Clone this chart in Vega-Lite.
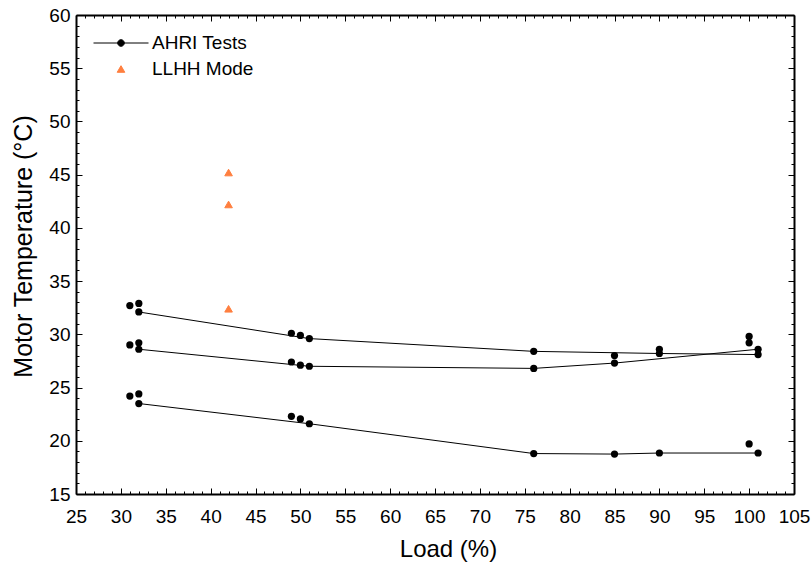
{
  "$schema": "https://vega.github.io/schema/vega-lite/v6.json",
  "width": 718,
  "height": 479,
  "padding": {"left": 76, "top": 15, "right": 18, "bottom": 68},
  "autosize": {"type": "none"},
  "config": {
    "font": "Liberation Sans",
    "view": {"stroke": null},
    "axis": {
      "grid": false,
      "domainColor": "black",
      "domainWidth": 2,
      "tickColor": "black",
      "tickWidth": 1,
      "labelColor": "black",
      "labelFont": "Liberation Sans",
      "labelFontSize": 19,
      "labelOverlap": false,
      "labelFlush": false,
      "titleColor": "black",
      "titleFont": "Liberation Sans",
      "titleFontSize": 24,
      "titleFontWeight": "normal"
    }
  },
  "datasets": {
    "lines": [
      {"load": 32, "temp": 32.1, "curve": "A"},
      {"load": 51, "temp": 29.6, "curve": "A"},
      {"load": 76, "temp": 28.4, "curve": "A"},
      {"load": 90, "temp": 28.2, "curve": "A"},
      {"load": 101, "temp": 28.1, "curve": "A"},
      {"load": 32, "temp": 28.6, "curve": "B"},
      {"load": 51, "temp": 27.0, "curve": "B"},
      {"load": 76, "temp": 26.8, "curve": "B"},
      {"load": 85, "temp": 27.3, "curve": "B"},
      {"load": 101, "temp": 28.6, "curve": "B"},
      {"load": 32, "temp": 23.5, "curve": "C"},
      {"load": 51, "temp": 21.6, "curve": "C"},
      {"load": 76, "temp": 18.8, "curve": "C"},
      {"load": 85, "temp": 18.75, "curve": "C"},
      {"load": 90, "temp": 18.85, "curve": "C"},
      {"load": 101, "temp": 18.85, "curve": "C"}
    ],
    "ahri": [
      {"load": 31, "temp": 32.7, "series": "AHRI Tests"},
      {"load": 31, "temp": 29.0, "series": "AHRI Tests"},
      {"load": 31, "temp": 24.2, "series": "AHRI Tests"},
      {"load": 32, "temp": 32.9, "series": "AHRI Tests"},
      {"load": 32, "temp": 32.1, "series": "AHRI Tests"},
      {"load": 32, "temp": 29.2, "series": "AHRI Tests"},
      {"load": 32, "temp": 28.6, "series": "AHRI Tests"},
      {"load": 32, "temp": 24.4, "series": "AHRI Tests"},
      {"load": 32, "temp": 23.5, "series": "AHRI Tests"},
      {"load": 49, "temp": 30.1, "series": "AHRI Tests"},
      {"load": 49, "temp": 27.4, "series": "AHRI Tests"},
      {"load": 49, "temp": 22.3, "series": "AHRI Tests"},
      {"load": 50, "temp": 29.9, "series": "AHRI Tests"},
      {"load": 50, "temp": 27.1, "series": "AHRI Tests"},
      {"load": 50, "temp": 22.05, "series": "AHRI Tests"},
      {"load": 51, "temp": 29.6, "series": "AHRI Tests"},
      {"load": 51, "temp": 27.0, "series": "AHRI Tests"},
      {"load": 51, "temp": 21.6, "series": "AHRI Tests"},
      {"load": 76, "temp": 28.4, "series": "AHRI Tests"},
      {"load": 76, "temp": 26.8, "series": "AHRI Tests"},
      {"load": 76, "temp": 18.8, "series": "AHRI Tests"},
      {"load": 85, "temp": 28.0, "series": "AHRI Tests"},
      {"load": 85, "temp": 27.3, "series": "AHRI Tests"},
      {"load": 85, "temp": 18.75, "series": "AHRI Tests"},
      {"load": 90, "temp": 28.6, "series": "AHRI Tests"},
      {"load": 90, "temp": 28.2, "series": "AHRI Tests"},
      {"load": 90, "temp": 18.85, "series": "AHRI Tests"},
      {"load": 100, "temp": 29.8, "series": "AHRI Tests"},
      {"load": 100, "temp": 29.2, "series": "AHRI Tests"},
      {"load": 100, "temp": 19.7, "series": "AHRI Tests"},
      {"load": 101, "temp": 28.6, "series": "AHRI Tests"},
      {"load": 101, "temp": 28.1, "series": "AHRI Tests"},
      {"load": 101, "temp": 18.85, "series": "AHRI Tests"}
    ],
    "llhh": [
      {"load": 42, "temp": 45.2, "series": "LLHH Mode"},
      {"load": 42, "temp": 42.2, "series": "LLHH Mode"},
      {"load": 42, "temp": 32.4, "series": "LLHH Mode"}
    ]
  },
  "layer": [
    {
      "data": {"name": "lines"},
      "mark": {"type": "line", "color": "black", "strokeWidth": 1},
      "encoding": {
        "x": {
          "field": "load", "type": "quantitative",
          "scale": {"domain": [25, 105], "nice": false, "zero": false},
          "axis": {
            "orient": "bottom",
            "title": "Load (%)",
            "values": [25,26,27,28,29,30,31,32,33,34,35,36,37,38,39,40,41,42,43,44,45,46,47,48,49,50,51,52,53,54,55,56,57,58,59,60,61,62,63,64,65,66,67,68,69,70,71,72,73,74,75,76,77,78,79,80,81,82,83,84,85,86,87,88,89,90,91,92,93,94,95,96,97,98,99,100,101,102,103,104,105],
            "labelExpr": "datum.value % 5 === 0 ? datum.label : ''",
            "tickSize": {"condition": {"test": "datum.value % 5 === 0", "value": -6}, "value": -3},
            "labelPadding": 19,
            "titleX": 372,
            "titleY": 62,
            "titleBaseline": "alphabetic"
          }
        },
        "y": {
          "field": "temp", "type": "quantitative",
          "scale": {"domain": [15, 60], "nice": false, "zero": false},
          "axis": {
            "orient": "left",
            "title": "Motor Temperature (°C)",
            "values": [15,16,17,18,19,20,21,22,23,24,25,26,27,28,29,30,31,32,33,34,35,36,37,38,39,40,41,42,43,44,45,46,47,48,49,50,51,52,53,54,55,56,57,58,59,60],
            "labelExpr": "datum.value % 5 === 0 ? datum.label : ''",
            "tickSize": {"condition": {"test": "datum.value % 5 === 0", "value": -6}, "value": -3},
            "labelPadding": 12,
            "titleFontSize": 25,
            "titleX": -45,
            "titleY": 231,
            "titleBaseline": "alphabetic"
          }
        },
        "detail": {"field": "curve"}
      }
    },
    {
      "data": {"name": "ahri"},
      "mark": {"type": "point", "shape": "circle", "filled": true, "color": "black", "opacity": 1, "size": 52},
      "encoding": {
        "x": {
          "field": "load", "type": "quantitative",
          "axis": {
            "orient": "top", "title": null, "labels": false,
            "values": [25,26,27,28,29,30,31,32,33,34,35,36,37,38,39,40,41,42,43,44,45,46,47,48,49,50,51,52,53,54,55,56,57,58,59,60,61,62,63,64,65,66,67,68,69,70,71,72,73,74,75,76,77,78,79,80,81,82,83,84,85,86,87,88,89,90,91,92,93,94,95,96,97,98,99,100,101,102,103,104,105],
            "tickSize": {"condition": {"test": "datum.value % 5 === 0", "value": -6}, "value": -3}
          }
        },
        "y": {
          "field": "temp", "type": "quantitative",
          "axis": {
            "orient": "right", "title": null, "labels": false,
            "values": [15,16,17,18,19,20,21,22,23,24,25,26,27,28,29,30,31,32,33,34,35,36,37,38,39,40,41,42,43,44,45,46,47,48,49,50,51,52,53,54,55,56,57,58,59,60],
            "tickSize": {"condition": {"test": "datum.value % 5 === 0", "value": -6}, "value": -3}
          }
        }
      }
    },
    {
      "data": {"name": "llhh"},
      "mark": {"type": "point", "filled": true, "opacity": 1, "strokeWidth": 1},
      "encoding": {
        "x": {"field": "load", "type": "quantitative", "axis": null},
        "y": {"field": "temp", "type": "quantitative", "axis": null},
        "fill": {
          "field": "series", "type": "nominal",
          "scale": {"domain": ["AHRI Tests", "LLHH Mode"], "range": ["black", "#FF7F3F"]},
          "legend": {
            "title": null,
            "orient": "none",
            "legendX": 17,
            "legendY": 18,
            "padding": 0,
            "labelFont": "Liberation Sans",
            "labelFontSize": 19,
            "labelColor": "black",
            "labelOffset": 3,
            "clipHeight": 20,
            "rowPadding": 6,
            "symbolStrokeWidth": 1,
            "symbolOpacity": 1
          }
        },
        "stroke": {
          "field": "series", "type": "nominal",
          "scale": {"domain": ["AHRI Tests", "LLHH Mode"], "range": ["black", "#FF7F3F"]}
        },
        "shape": {
          "field": "series", "type": "nominal",
          "scale": {"domain": ["AHRI Tests", "LLHH Mode"], "range": ["M-1,0H1M0.12,0A0.12,0.12 0 1,1 -0.12,0A0.12,0.12 0 1,1 0.12,0Z", "triangle-up"]}
        },
        "size": {
          "field": "series", "type": "nominal",
          "scale": {"domain": ["AHRI Tests", "LLHH Mode"], "range": [3025, 58]}
        }
      }
    }
  ],
  "resolve": {"axis": {"x": "independent", "y": "independent"}}
}
